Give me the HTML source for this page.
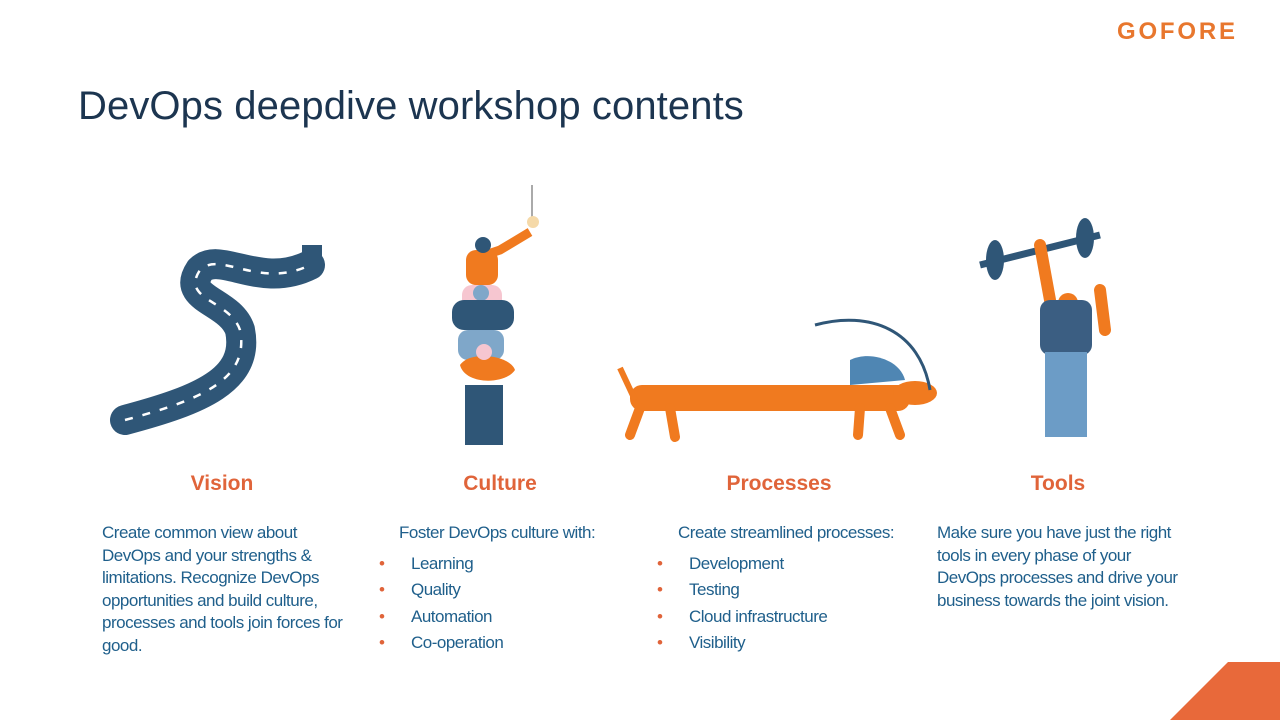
<!DOCTYPE html>
<html><head><meta charset="utf-8"><style>
body{margin:0;width:1280px;height:720px;background:#fff;position:relative;overflow:hidden;font-family:"Liberation Sans",sans-serif}
.a{position:absolute;white-space:nowrap}
.t{left:78px;top:84px;font-size:40px;color:#1c3550;letter-spacing:0.1px}
.logo{left:1117px;top:18px;font-size:24px;font-weight:bold;color:#e8772e;letter-spacing:2.8px}
.h{font-size:21px;font-weight:bold;color:#e0643a;top:472px;transform:translateX(-50%)}
.b{font-size:17px;color:#1f5f8b;line-height:22.6px;letter-spacing:-0.5px}
.li{position:relative;padding-left:32px;line-height:26.3px}
.li:before{content:"•";color:#e0643a;position:absolute;left:0}
</style></head><body>
<div class="a logo">GOFORE</div>
<div class="a t">DevOps deepdive workshop contents</div>

<svg class="a" style="left:0;top:0" width="1280" height="720">
<path d="M125,420 C200,400 250,380 240,330 C230,300 180,300 200,270 C220,250 260,290 310,265" stroke="#2f5677" stroke-width="30" fill="none" stroke-linecap="round"/>
<path d="M125,420 C200,400 250,380 240,330 C230,300 180,300 200,270 C220,250 260,290 310,265" stroke="#fff" stroke-width="2.5" stroke-dasharray="8 10" fill="none"/>
<rect x="302" y="245" width="20" height="16" fill="#2f5677"/>
<line x1="532" y1="185" x2="532" y2="220" stroke="#aaa" stroke-width="2"/>
<circle cx="533" cy="222" r="6" fill="#f5d9a8"/>
<path d="M470,260 L500,250 L530,232" stroke="#f07a1f" stroke-width="9" fill="none"/>
<rect x="466" y="250" width="32" height="35" rx="10" fill="#f07a1f"/>
<circle cx="483" cy="245" r="8" fill="#2f5677"/>
<rect x="462" y="285" width="40" height="30" rx="10" fill="#f6c6d0"/>
<circle cx="481" cy="293" r="8" fill="#7fa7c9"/>
<rect x="452" y="300" width="62" height="30" rx="12" fill="#2f5677"/>
<rect x="458" y="330" width="46" height="30" rx="10" fill="#7fa7c9"/>
<path d="M460,365 C470,350 510,355 515,370 C505,385 465,385 460,365Z" fill="#f07a1f"/>
<circle cx="484" cy="352" r="8" fill="#f6c6d0"/>
<rect x="465" y="385" width="38" height="60" fill="#2f5677"/>
<rect x="630" y="385" width="280" height="26" rx="12" fill="#f07a1f"/>
<path d="M620,368 L635,400" stroke="#f07a1f" stroke-width="6"/>
<ellipse cx="915" cy="393" rx="22" ry="12" fill="#f07a1f"/>
<path d="M640,408 L630,435 M670,408 L675,437 M860,408 L858,435 M890,408 L900,435" stroke="#f07a1f" stroke-width="10" stroke-linecap="round"/>
<path d="M815,325 C870,310 920,330 930,390" stroke="#2f5677" stroke-width="3" fill="none"/>
<path d="M850,360 C870,350 900,360 905,380 L850,385Z" fill="#4f86b3"/>
<line x1="980" y1="265" x2="1100" y2="235" stroke="#2f5677" stroke-width="7"/>
<ellipse cx="995" cy="260" rx="9" ry="20" fill="#2f5677"/><ellipse cx="1085" cy="238" rx="9" ry="20" fill="#2f5677"/>
<path d="M1040,245 L1050,300 M1100,290 L1105,330" stroke="#f07a1f" stroke-width="12" stroke-linecap="round"/>
<circle cx="1068" cy="303" r="10" fill="#f07a1f"/>
<rect x="1040" y="300" width="52" height="55" rx="10" fill="#3b5e82"/>
<rect x="1045" y="352" width="42" height="85" fill="#6c9cc6"/>
<polygon points="1280,662 1280,720 1170,720 1228,662" fill="#e8693a"/>
</svg>

<div class="a h" style="left:222px">Vision</div>
<div class="a h" style="left:500px">Culture</div>
<div class="a h" style="left:779px">Processes</div>
<div class="a h" style="left:1058px">Tools</div>

<div class="a b" style="left:102px;top:522px">Create common view about<br>DevOps and your strengths &amp;<br>limitations. Recognize DevOps<br>opportunities and build culture,<br>processes and tools join forces for<br>good.</div>
<div class="a b" style="left:399px;top:522px">Foster DevOps culture with:</div>
<div class="a b" style="left:379px;top:551px"><div class="li">Learning</div><div class="li">Quality</div><div class="li">Automation</div><div class="li">Co-operation</div></div>
<div class="a b" style="left:678px;top:522px">Create streamlined processes:</div>
<div class="a b" style="left:657px;top:551px"><div class="li">Development</div><div class="li">Testing</div><div class="li">Cloud infrastructure</div><div class="li">Visibility</div></div>
<div class="a b" style="left:937px;top:522px">Make sure you have just the right<br>tools in every phase of your<br>DevOps processes and drive your<br>business towards the joint vision.</div>
</body></html>
